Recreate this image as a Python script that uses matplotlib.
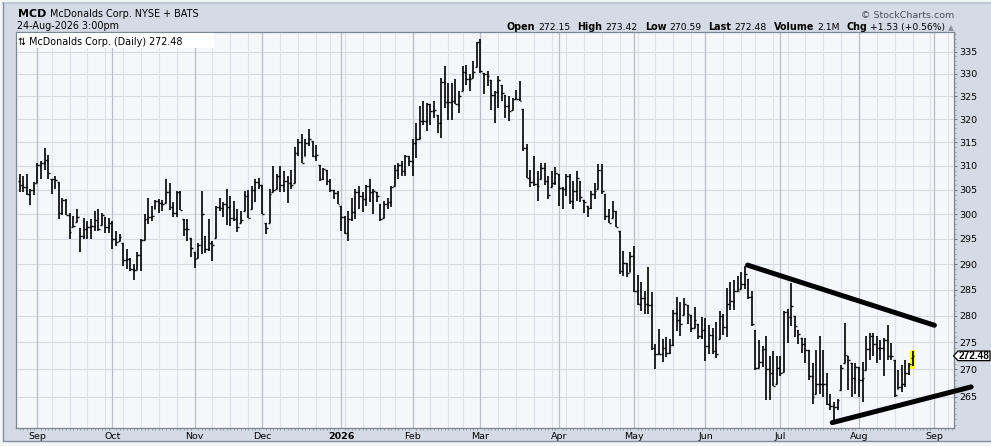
import numpy as np
import pandas as pd
import matplotlib
matplotlib.use('Agg')
import matplotlib.pyplot as plt
from matplotlib.collections import LineCollection
from matplotlib.patches import Rectangle, Polygon
from matplotlib.lines import Line2D
from matplotlib.transforms import IdentityTransform
from matplotlib.ticker import FixedLocator, FixedFormatter, NullFormatter

plt.rcParams['font.family'] = ['DejaVu Sans']

# ---------------- DATA ----------------
ticker = 'MCD'
company = 'McDonalds Corp.'
exchange = 'NYSE + BATS'
stamp = '24-Aug-2026 3:00pm'
first_day = '2025-08-25'
holidays = ['2025-09-01', '2025-11-27', '2025-12-25', '2026-01-01', '2026-01-19',
            '2026-02-16', '2026-04-03', '2026-05-25', '2026-06-19', '2026-07-03',
            '2026-09-07']

opens = [
    306.8, 306.0, 305.5, 304.1, 304.9, 306.5, 310.2, 310.7, 311.3, 307.3,
    307.2, 306.6, 300.3, 302.9, 299.9, 297.3, 298.4, 297.1, 295.5, 296.9,
    297.5, 297.7, 298.8, 297.9, 299.5, 297.5, 298.3, 295.0, 294.6, 294.2,
    290.8, 291.0, 289.1, 288.8, 291.8, 294.7, 299.1, 299.5, 301.0, 302.7,
    302.3, 302.3, 304.5, 301.4, 300.3, 304.5, 299.1, 296.9, 295.2, 292.3,
    291.2, 293.7, 295.5, 292.9, 294.2, 295.2, 301.4, 301.3, 302.1, 301.4,
    299.3, 299.0, 298.3, 300.7, 303.8, 301.0, 304.9, 306.7, 306.1, 298.3,
    298.3, 304.5, 305.1, 307.8, 306.1, 306.8, 306.5, 306.5, 312.8, 315.0,
    312.1, 314.9, 315.3, 312.1, 310.2, 307.2, 309.2, 306.8, 304.9, 304.3,
    301.7, 299.5, 296.1, 299.0, 300.5, 304.5, 303.8, 303.1, 305.8, 304.5,
    304.6, 302.1, 299.3, 302.1, 302.4, 305.8, 309.2, 310.2, 309.0, 312.1,
    311.1, 314.9, 315.7, 319.5, 319.5, 323.2, 321.7, 321.0, 319.2, 328.1,
    323.7, 323.7, 323.9, 323.2, 326.1, 330.5, 328.9, 329.1, 331.6, 337.2,
    330.2, 330.0, 328.7, 325.4, 325.9, 327.6, 325.4, 322.8, 322.1, 324.3,
    324.4, 322.3, 313.8, 307.5, 306.6, 306.3, 307.2, 309.5, 306.8, 305.5,
    306.5, 308.2, 305.3, 305.1, 307.8, 302.7, 304.8, 306.8, 302.9, 301.7,
    301.2, 304.2, 305.1, 309.2, 304.1, 299.7, 299.3, 300.7, 296.6, 288.6,
    290.3, 288.4, 291.6, 284.7, 282.2, 283.4, 282.2, 282.0, 273.9, 272.8,
    272.9, 273.9, 273.1, 274.5, 280.6, 279.2, 280.1, 282.0, 280.1, 277.6,
    278.5, 276.2, 277.4, 274.3, 276.3, 273.4, 275.6, 280.0, 277.9, 282.2,
    282.8, 284.8, 285.1, 286.1, 287.1, 283.6, 277.4, 270.2, 271.4, 273.8,
    270.0, 269.4, 267.4, 270.2, 269.6, 280.8, 279.7, 280.0, 277.4, 275.8,
    274.6, 273.6, 268.7, 265.6, 267.4, 267.4, 267.4, 263.7, 263.3, 263.2,
    266.2, 271.1, 272.5, 271.1, 268.4, 270.5, 268.0, 269.9, 273.8, 276.1,
    274.6, 273.9, 273.9, 275.5, 272.5, 271.8, 266.5, 266.8, 267.4, 269.4,
    272.15]

highs = [
    308.2, 307.8, 308.2, 305.1, 306.6, 310.6, 311.1, 313.8, 312.4, 307.3,
    307.8, 306.6, 303.4, 303.1, 300.3, 299.7, 301.0, 297.1, 299.3, 298.6,
    299.0, 300.7, 301.0, 300.3, 299.5, 299.3, 298.6, 296.6, 295.9, 294.2,
    292.9, 291.3, 290.1, 292.3, 294.9, 300.0, 303.4, 301.7, 302.9, 303.1,
    302.9, 307.2, 306.5, 302.4, 304.8, 304.8, 299.1, 299.1, 295.2, 292.3,
    294.2, 304.8, 295.5, 299.0, 294.6, 301.7, 303.4, 302.4, 305.1, 303.8,
    302.7, 301.0, 300.7, 304.8, 304.9, 305.8, 307.2, 307.5, 306.1, 298.3,
    305.1, 310.0, 308.2, 309.9, 308.9, 307.8, 309.2, 313.9, 315.7, 316.7,
    315.8, 317.9, 315.3, 314.4, 310.2, 309.5, 309.2, 307.2, 305.0, 304.8,
    301.7, 299.7, 300.7, 303.4, 305.1, 305.8, 304.5, 306.0, 307.2, 305.1,
    304.6, 302.1, 302.7, 303.4, 305.8, 310.2, 310.7, 311.0, 312.4, 312.1,
    315.7, 319.2, 322.8, 323.9, 323.5, 323.2, 323.9, 321.0, 329.1, 331.8,
    328.0, 328.0, 328.9, 326.1, 331.8, 331.9, 329.9, 332.9, 337.3, 337.8,
    330.2, 330.6, 328.7, 326.1, 329.5, 327.6, 325.4, 325.0, 324.6, 326.5,
    328.4, 322.3, 314.6, 309.2, 312.1, 308.9, 310.7, 310.6, 307.8, 308.9,
    309.7, 308.2, 305.5, 308.2, 308.2, 306.8, 308.9, 306.8, 302.9, 301.7,
    304.8, 306.5, 310.4, 310.4, 304.1, 301.0, 302.7, 300.7, 296.6, 292.6,
    290.3, 292.3, 293.6, 287.9, 286.4, 284.8, 289.4, 284.5, 274.7, 277.5,
    275.6, 276.0, 275.6, 281.1, 283.5, 282.7, 283.4, 282.0, 280.1, 281.7,
    278.5, 279.8, 279.6, 278.2, 277.6, 278.9, 280.9, 280.4, 285.4, 286.4,
    286.8, 287.7, 288.4, 289.6, 287.1, 284.7, 277.4, 275.5, 274.3, 276.2,
    272.4, 273.3, 272.4, 272.4, 281.0, 281.3, 286.3, 280.0, 277.4, 275.8,
    275.8, 273.6, 271.1, 273.6, 276.1, 273.6, 269.3, 265.6, 264.1, 264.7,
    270.8, 278.7, 272.5, 271.1, 271.1, 270.5, 271.4, 276.1, 276.8, 276.8,
    276.1, 275.5, 275.8, 278.2, 274.9, 271.8, 269.9, 270.8, 271.8, 271.1,
    273.42]

lows = [
    304.6, 304.5, 304.0, 301.9, 304.0, 306.5, 307.2, 309.2, 307.2, 304.2,
    305.1, 299.1, 299.8, 299.9, 295.0, 297.3, 298.4, 292.4, 294.9, 294.9,
    294.9, 296.6, 296.6, 297.9, 296.1, 296.2, 292.9, 293.5, 294.6, 289.7,
    289.0, 288.6, 286.9, 288.8, 288.6, 294.7, 298.0, 298.6, 301.0, 300.3,
    300.7, 302.3, 300.9, 299.5, 299.5, 300.8, 295.5, 294.6, 291.5, 289.2,
    291.2, 292.0, 292.1, 292.6, 290.7, 295.2, 300.7, 299.5, 297.9, 297.6,
    298.6, 296.4, 298.3, 300.7, 299.2, 301.0, 302.4, 305.1, 300.0, 295.9,
    298.3, 304.5, 305.1, 304.5, 304.5, 302.3, 305.1, 306.5, 312.1, 310.6,
    312.1, 314.3, 311.9, 311.0, 306.8, 307.0, 306.1, 304.5, 303.1, 302.1,
    296.6, 295.9, 294.5, 298.6, 299.0, 301.0, 300.5, 301.7, 302.4, 300.0,
    302.4, 298.6, 299.3, 301.0, 301.4, 305.8, 307.2, 307.8, 307.8, 309.9,
    307.8, 311.7, 315.7, 318.8, 317.5, 318.8, 320.2, 317.1, 316.0, 322.4,
    319.9, 319.9, 323.2, 321.3, 326.1, 327.6, 326.1, 329.1, 331.6, 330.1,
    325.6, 327.2, 322.1, 319.2, 322.4, 323.9, 320.2, 319.7, 322.1, 324.3,
    323.9, 313.2, 307.5, 305.5, 305.8, 302.7, 307.2, 306.1, 303.2, 305.5,
    306.1, 301.7, 301.0, 303.8, 302.1, 301.0, 302.7, 302.4, 300.2, 299.5,
    301.0, 303.1, 305.1, 304.1, 298.8, 298.2, 299.3, 297.3, 288.1, 287.7,
    287.4, 288.4, 284.6, 282.0, 281.0, 280.4, 280.4, 273.5, 270.1, 272.8,
    271.3, 272.2, 272.8, 274.4, 277.2, 276.2, 280.1, 278.5, 276.9, 277.6,
    275.6, 275.6, 271.5, 272.9, 272.9, 272.0, 275.6, 276.3, 276.0, 281.1,
    281.1, 284.8, 285.1, 285.1, 283.3, 278.1, 269.9, 270.2, 270.5, 264.4,
    264.4, 266.9, 267.4, 268.7, 269.6, 274.9, 278.1, 276.0, 274.6, 273.0,
    271.1, 268.0, 263.8, 265.6, 265.6, 264.9, 263.5, 262.6, 260.8, 262.6,
    266.2, 271.1, 266.2, 265.0, 265.6, 265.0, 264.1, 269.9, 271.8, 272.4,
    271.1, 271.8, 268.7, 271.8, 271.8, 265.0, 266.5, 265.9, 266.8, 269.0,
    270.59]

closes = [
    306.0, 305.5, 304.1, 304.9, 306.4, 310.2, 310.7, 311.3, 308.5, 307.2,
    307.0, 300.3, 302.9, 299.9, 296.4, 297.6, 299.5, 295.5, 296.9, 297.5,
    297.7, 298.8, 296.9, 299.8, 297.5, 298.3, 295.0, 294.4, 295.4, 290.8,
    291.0, 289.1, 288.8, 291.8, 294.7, 299.1, 299.5, 299.7, 302.7, 302.3,
    302.1, 304.5, 301.4, 300.3, 304.5, 300.8, 296.9, 296.9, 293.1, 291.0,
    293.7, 300.1, 292.9, 294.2, 293.7, 301.4, 301.3, 302.1, 301.4, 299.3,
    299.0, 297.3, 298.8, 303.8, 299.3, 304.9, 306.7, 306.1, 300.0, 297.1,
    304.1, 304.9, 307.8, 306.1, 306.8, 306.5, 305.9, 312.8, 315.0, 310.6,
    314.9, 315.8, 312.1, 312.4, 307.2, 309.3, 306.8, 304.9, 304.3, 302.1,
    299.5, 296.1, 299.0, 300.5, 304.5, 303.8, 303.1, 305.8, 304.5, 304.8,
    303.8, 299.1, 302.1, 302.4, 305.5, 309.2, 310.2, 309.0, 312.1, 311.1,
    314.9, 315.7, 319.5, 319.5, 323.2, 321.7, 322.1, 319.2, 328.1, 323.7,
    323.7, 323.9, 323.2, 325.1, 330.5, 328.9, 328.9, 330.5, 337.2, 330.6,
    330.0, 329.5, 325.4, 325.9, 328.6, 325.7, 322.8, 321.8, 324.3, 324.4,
    324.0, 313.8, 307.5, 306.6, 306.3, 305.8, 309.5, 306.8, 303.9, 306.5,
    308.6, 305.3, 305.1, 307.8, 302.7, 304.8, 307.5, 303.6, 302.4, 301.2,
    304.2, 304.8, 309.2, 304.8, 299.7, 298.2, 300.7, 297.3, 288.6, 290.3,
    288.2, 291.6, 284.7, 282.2, 283.4, 282.2, 282.0, 273.9, 272.8, 272.9,
    273.9, 273.1, 274.5, 280.6, 279.2, 278.4, 282.3, 280.4, 277.6, 279.2,
    276.2, 277.4, 274.3, 276.3, 273.4, 272.8, 280.0, 277.9, 282.2, 282.8,
    284.7, 284.8, 286.1, 288.1, 283.6, 278.4, 270.2, 271.4, 273.8, 270.0,
    269.4, 267.0, 270.2, 269.4, 280.8, 279.7, 281.9, 278.1, 276.5, 274.6,
    273.6, 268.7, 265.0, 267.4, 267.4, 267.4, 263.7, 263.3, 263.2, 264.4,
    270.2, 272.7, 271.8, 268.4, 270.5, 268.0, 268.4, 273.8, 276.1, 274.6,
    273.9, 273.9, 275.5, 272.5, 272.5, 265.3, 266.8, 267.4, 269.4, 270.95,
    272.48]

price_ticks = [265, 270, 275, 280, 285, 290, 295, 300, 305, 310, 315, 320, 325, 330, 335]
month_names = ['Jan', 'Feb', 'Mar', 'Apr', 'May', 'Jun', 'Jul', 'Aug', 'Sep', 'Oct', 'Nov', 'Dec']

# hand-drawn trend lines: (bar position, price) anchors
trend_upper_x = [203.8, 256.1]
trend_upper_y = [289.8, 278.2]
trend_lower_x = [227.5, 266.4]
trend_lower_y = [260.4, 266.8]

header_pieces = [('Open', 'bold'), ('272.15', 'normal'), ('High', 'bold'), ('273.42', 'normal'),
                 ('Low', 'bold'), ('270.59', 'normal'), ('Last', 'bold'), ('272.48', 'normal'),
                 ('Volume', 'bold'), ('2.1M', 'normal'), ('Chg', 'bold'), ('+1.53 (+0.56%)', 'normal')]

# ---------------- FIGURE ----------------
W, H = 991, 446
fig = plt.figure(figsize=(W / 100, H / 100), dpi=100)
fig.patch.set_facecolor('#F4F6F9')
PX = IdentityTransform()

# outer panel
fig.patches.append(Rectangle((3, 5), W, H - 8, transform=PX, facecolor='#D5DBE5',
                             edgecolor='none', zorder=-5))
fig.lines.append(Line2D([3, W], [H - 2.5, H - 2.5], transform=PX, color='#BFCBD8', lw=1.5, zorder=-4))
fig.lines.append(Line2D([3, 3], [5, H - 3], transform=PX, color='#858E9A', lw=1.0, zorder=-4))
fig.lines.append(Line2D([3, W], [5, 5], transform=PX, color='#858E9A', lw=1.0, zorder=-4))

L, R, T, B = 16, 954, 32.3, 428.3
ax = fig.add_axes([L / W, 1 - B / H, (R - L) / W, (B - T) / H])
ax.set_facecolor('#F6F7FB')

n = len(closes)
days = pd.bdate_range(first_day, '2026-09-30', freq='C', holidays=holidays)
xpos = np.arange(n)

x0 = -(19.6 - L) / 3.572
x1 = (R - 19.6) / 3.572
ax.set_xlim(x0, x1)
ax.set_yscale('log')
ax.set_ylim(259.4, 339.44)

# grid
vis = [i for i in range(len(days)) if x0 < i < x1]
week_pos = [i for i in vis if i > 0 and days[i].weekday() < days[i - 1].weekday()]
month_pos = [i for i in vis if i > 0 and days[i].month != days[i - 1].month]
for p in price_ticks:
    ax.axhline(p, color='#D6D9E1', lw=0.8, zorder=1)
for w in week_pos:
    ax.axvline(w, color='#DFE2E9', lw=0.8, zorder=1)
for m in month_pos:
    ax.axvline(m, color='#B9BEC9', lw=0.9, zorder=1.1)

# last-bar highlight
ax.add_patch(Rectangle((xpos[-1] - 0.75, lows[-1] - 0.5), 1.5, highs[-1] - lows[-1] + 0.6,
                       facecolor='#F7F53C', edgecolor='none', zorder=2))

# OHLC bars
tick = 0.5
vsegs = []
hsegs = []
for i in range(n):
    vsegs.append([(xpos[i], lows[i]), (xpos[i], highs[i])])
    hsegs.append([(xpos[i] - tick, opens[i]), (xpos[i], opens[i])])
    hsegs.append([(xpos[i], closes[i]), (xpos[i] + tick, closes[i])])
ax.add_collection(LineCollection(vsegs, colors='black', linewidths=1.2, capstyle='butt', zorder=3))
ax.add_collection(LineCollection(hsegs, colors='black', linewidths=1.0, capstyle='butt', zorder=3))

# trend lines
ax.plot(trend_upper_x, trend_upper_y, color='black', lw=3.6, solid_capstyle='round', zorder=4)
ax.plot(trend_lower_x, trend_lower_y, color='black', lw=3.6, solid_capstyle='round', zorder=4,
        clip_on=False)

# axes styling
for s in ax.spines.values():
    s.set_color('#7C8692')
    s.set_linewidth(0.9)
ax.yaxis.tick_right()
ax.yaxis.set_major_locator(FixedLocator(price_ticks))
ax.yaxis.set_major_formatter(FixedFormatter([str(p) for p in price_ticks]))
ax.yaxis.set_minor_locator(FixedLocator(list(range(260, 340))))
ax.yaxis.set_minor_formatter(NullFormatter())
ax.tick_params(axis='y', which='major', length=2.5, width=0.7, color='#6A7380', pad=1,
               labelsize=6.8, labelcolor='black')
ax.tick_params(axis='y', which='minor', length=1.3, width=0.6, color='#8A929D')

labels = []
for m in month_pos:
    d = days[m]
    labels.append(str(d.year) if d.month == 1 else month_names[d.month - 1])
ax.xaxis.set_major_locator(FixedLocator(month_pos))
ax.xaxis.set_major_formatter(FixedFormatter(labels))
ax.xaxis.set_minor_locator(FixedLocator(vis))
ax.tick_params(axis='x', which='major', length=0, pad=2.6, labelsize=6.8, labelcolor='black')
ax.tick_params(axis='x', which='minor', length=1.3, width=0.6, color='#8A929D')
for lab in ax.get_xticklabels():
    if lab.get_text().isdigit():
        lab.set_fontweight('bold')

# legend box inside plot
fig.patches.append(Rectangle((16.6, H - 48), 197, 15.2, transform=PX, facecolor='white',
                             edgecolor='none', zorder=2))
fig.text(18, H - 45, '\u21c5 ' + company + ' (Daily) ' + f'{closes[-1]:.2f}', transform=PX,
         fontsize=6.9, va='baseline', ha='left', zorder=3)

# header
t1 = fig.text(18, H - 17.3, ticker, transform=PX, fontsize=8, fontweight='bold', va='baseline')
renderer = fig.canvas.get_renderer()
w1 = t1.get_window_extent(renderer).width
fig.text(18 + w1 + 4, H - 17.3, company + ' ' + exchange, transform=PX, fontsize=6.9,
         va='baseline')
fig.text(17, H - 29, stamp, transform=PX, fontsize=6.9, va='baseline')
fig.text(954, H - 17.5, '\u00a9 StockCharts.com', transform=PX, fontsize=6.8, color='#4A4F57',
         ha='right', va='baseline')

objs = []
for s, wt in header_pieces:
    t = fig.text(0, H - 30, s, transform=PX, fontsize=6.9 if wt == 'bold' else 6.7,
                 fontweight=wt, va='baseline')
    objs.append(t)
arrow = fig.text(0, H - 30, '\u25b2', transform=PX, fontsize=5.5, color='#8C939C', va='baseline')
widths = [o.get_window_extent(renderer).width for o in objs]
aw = arrow.get_window_extent(renderer).width
gaps = []
for k in range(len(objs)):
    gaps.append(3 if header_pieces[k][1] == 'bold' else 7)
gaps[-1] = 3
total = sum(widths) + sum(gaps) + aw
xcur = 954 - total
for o, wdt, g in zip(objs, widths, gaps):
    o.set_x(xcur)
    xcur += wdt + g
arrow.set_x(xcur)

# last price tag
yp = ax.transData.transform((0, closes[-1]))[1]
tag = Polygon([(953.5, yp), (958, yp + 4.8), (990, yp + 4.8), (990, yp - 4.8), (958, yp - 4.8)],
              closed=True, transform=PX, facecolor='white', edgecolor='black', lw=0.9, zorder=5)
fig.patches.append(tag)
fig.text(974, yp, f'{closes[-1]:.2f}', transform=PX, fontsize=7.2, fontweight='bold',
         family=['Liberation Sans', 'DejaVu Sans'], ha='center', va='center', zorder=6)

fig.savefig('out.png', dpi=100, facecolor=fig.get_facecolor())
